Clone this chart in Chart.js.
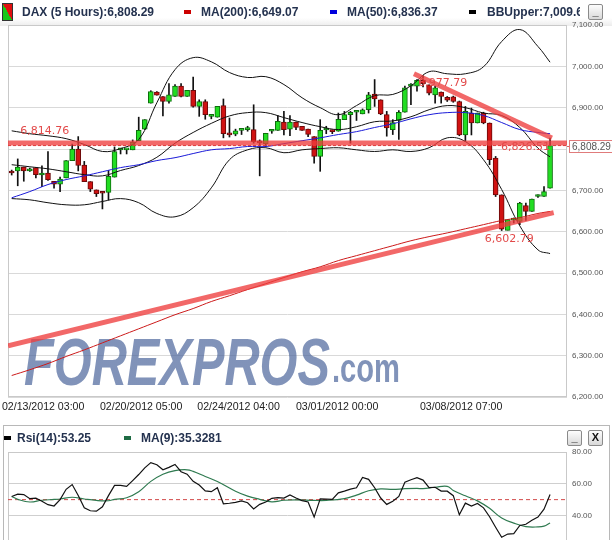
<!DOCTYPE html>
<html><head><meta charset="utf-8">
<script src="https://cdn.jsdelivr.net/npm/chart.js@4.4.1/dist/chart.umd.min.js"></script>
<style>
body{margin:0;width:612px;height:540px;overflow:hidden;background:#fff;position:relative;font-family:"Liberation Sans",Arial,sans-serif}
canvas{position:absolute;left:0}
#main{top:0}
#rsi{top:425px}
.lg{position:absolute;font:bold 12px "Liberation Sans",Arial,sans-serif;color:#24324f;white-space:nowrap;line-height:14px}
.sw{position:absolute;width:7px;height:4px}
.btn{position:absolute;width:13px;height:14px;border:1px solid #8a8a8a;border-radius:2px;background:linear-gradient(#fdfdfd,#d8d8d8);font:bold 11px "Liberation Sans";text-align:center;line-height:13px;color:#111}
#icon{position:absolute;left:2px;top:3px;width:9px;height:16px;border:1px solid #333;background:linear-gradient(to top right,#18c818 50%,#e01010 50%)}
#frame2{position:absolute;left:3px;top:425px;width:605px;height:130px;border:1px solid #b8b8b8}
#topband{position:absolute;left:0;top:18px;width:612px;height:8px;background:linear-gradient(#fff,#ececec)}
</style></head>
<body>
<div id="topband"></div>
<div id="frame2"></div>
<canvas id="main" width="612" height="420"></canvas>
<canvas id="rsi" width="612" height="160"></canvas>
<div id="icon"></div>
<div class="lg" style="left:22px;top:5px">DAX (5 Hours):6,808.29</div>
<div class="sw" style="left:184px;top:10px;background:#cc0000"></div>
<div class="lg" style="left:201px;top:5px">MA(200):6,649.07</div>
<div class="sw" style="left:330px;top:10px;background:#0000dd"></div>
<div class="lg" style="left:347px;top:5px">MA(50):6,836.37</div>
<div class="sw" style="left:469px;top:10px;background:#000"></div>
<div class="lg" style="left:487px;top:5px;width:93px;overflow:hidden">BBUpper:7,009.65</div>
<div class="btn" style="left:588px;top:4px">_</div>
<div class="sw" style="left:4px;top:436px;background:#000"></div>
<div class="lg" style="left:17px;top:431px">Rsi(14):53.25</div>
<div class="sw" style="left:124px;top:436px;background:#1e6b44"></div>
<div class="lg" style="left:141px;top:431px">MA(9):35.3281</div>
<div class="btn" style="left:567px;top:430px">_</div>
<div class="btn" style="left:588px;top:430px">X</div>
<script>
// ---------- data ----------
const tickIdx = [5.2, 21.4, 37.5, 53.8, 74.3];
const tickLabels = ['02/13/2012 03:00','02/20/2012 05:00','02/24/2012 04:00','03/01/2012 00:00','03/08/2012 07:00'];

const open = [6744,6747,6756,6747,6755,6737,6742,6722,6715,6730, 6772,6800,6761,6721,6701,6694,6695,6732,6798,6798,
  6798,6820,6848,6911,6938,6927,6915,6927,6952,6927, 6942,6903,6915,6879,6877,6905,6835,6836,6845,6847,
  6847,6816,6813,6843,6845,6865,6848,6865,6855,6848, 6830,6782,6846,6843,6843,6871,6883,6889,6885,6895,
  6933,6919,6883,6847,6869,6889,6952,6952,6966,6955, 6931,6938,6925,6926,6915,6834,6887,6863,6887,6863,
  6778,6689,6603,6628,6625,6663,6649,6685,6685,6705];
const high = [6749,6776,6756,6754,6755,6759,6794,6722,6732,6772, 6812,6830,6770,6721,6701,6695,6748,6805,6800,6800,
  6822,6877,6871,6941,6939,6927,6958,6956,6958,6942, 6974,6919,6919,6883,6903,6921,6875,6848,6847,6855,
  6907,6822,6838,6847,6881,6891,6881,6865,6855,6848, 6830,6871,6855,6845,6887,6891,6891,6893,6897,6937,
  6968,6919,6891,6871,6893,6952,6958,6968,6977.79,6955, 6952,6938,6927,6928,6916,6903,6899,6887,6889,6863,
  6782,6689,6629,6633,6671,6669,6679,6689,6709,6826.51];
const low = [6737,6711,6722,6746,6730,6709,6724,6705,6697,6730, 6772,6747,6721,6697,6685,6655,6677,6732,6788,6788,
  6798,6820,6847,6911,6930,6880,6911,6927,6926,6927, 6901,6879,6872,6873,6877,6827,6829,6832,6835,6843,
  6814,6735,6805,6838,6845,6834,6832,6847,6845,6830, 6766,6746,6837,6837,6843,6871,6814,6869,6885,6887,
  6903,6883,6831,6835,6823,6889,6907,6940,6950,6931, 6911,6911,6915,6913,6832,6818,6834,6863,6861,6762,
  6685,6602.79,6604,6621,6617,6627,6649,6683,6685,6705];
const close = [6742,6756,6747,6752,6738,6742,6726,6715,6727,6772, 6800,6760,6721,6703,6692,6693,6734,6794,6799,6798,
  6816,6845,6871,6939,6930,6915,6931,6952,6927,6942, 6903,6915,6883,6880,6903,6837,6834,6844,6846,6848,
  6818,6815,6838,6844,6867,6847,6865,6852,6845,6835, 6782,6845,6847,6842,6872,6883,6889,6890,6895,6931,
  6921,6885,6851,6864,6889,6948,6953,6966,6958,6935, 6948,6927,6918,6915,6834,6891,6863,6887,6863,6774,
  6689,6606,6629,6629,6669,6649,6679,6686,6697,6808.29];

const lineIdx = [0,3,6,9,12,15,18,21,24,27,30,33,36,39,42,45,48,51,54,57,60,63,66,69,72,75,78,81,84,87,89];
const bbUpper = [6844,6837,6832,6825,6811,6794,6801,6823,6912,6992,7021,7011,6985,6973,6975,6956,6924,6900,6883,6905,6929,6932,6953,6987,6982,6982,6999,7060,7089,7048,7010];
const bbMiddle = [6762,6757,6752,6745,6738,6735,6748,6760,6780,6814,6840,6862,6880,6888,6888,6876,6864,6854,6847,6854,6866,6868,6878,6895,6905,6900,6887,6881,6852,6802,6781];
const bbLower = [6680,6677,6670,6665,6665,6673,6680,6670,6644,6636,6658,6706,6774,6798,6803,6791,6798,6801,6803,6798,6794,6798,6794,6803,6827,6818,6774,6702,6614,6556,6547];
const ma50 = [6682,6697,6714,6726,6735,6745,6755,6762,6772,6779,6789,6798,6801,6806,6806,6813,6820,6827,6835,6842,6852,6861,6873,6883,6888,6888,6881,6864,6847,6840,6837];
const ma200 = [6252,6266,6281,6298,6314,6331,6348,6365,6382,6399,6414,6431,6445,6460,6474,6489,6503,6515,6530,6542,6554,6566,6578,6588,6597,6607,6617,6627,6634,6644,6649];

const resistance = 6814.76;
const lastPrice = 6808.29;
const trendUpIdx = [-0.61, 89.6], trendUpVal = [6324, 6646];
const trendDownIdx = [66.5, 89.3], trendDownVal = [6982, 6826.51];
const notes = [
  {text:'6,814.76', idx:1.4, val:6814.76, dy:-12, align:'left'},
  {text:'6,977.79', idx:67.2, val:6977.79, dy:8, align:'left'},
  {text:'6,826.51', idx:89.0, val:6826.51, dy:9, align:'right'},
  {text:'6,602.79', idx:78.2, val:6602.79, dy:9, align:'left'}
];

const rsi = [52.0,53.4,53.2,50.6,50.9,49.0,46.8,46.0,50.0,56.5, 59.5,52.6,44.8,43.0,42.7,45.5,52.5,59.0,59.0,58.3,
  62.0,65.8,70.0,73.3,72.0,68.8,70.3,72.2,67.6,66.0, 61.5,59.2,55.5,55.0,57.5,47.4,47.7,48.3,49.2,48.0,
  44.1,47.0,48.5,50.8,51.3,51.0,53.0,51.0,49.4,48.5, 39.0,50.5,50.3,50.1,54.3,55.4,56.6,57.5,64.0,62.8,
  57.5,51.0,47.0,49.0,52.0,61.0,62.5,63.8,62.3,57.5, 57.8,55.4,55.3,52.5,40.5,47.8,46.0,47.6,44.8,39.2,
  32.6,26.3,28.3,28.6,33.7,34.5,37.0,39.0,44.0,53.25];
const rsiMaIdx = [0,1,3,5,7,8,10,12,14,16,17,19,21,23,25,27,29,30,32,34,37,39,41,43,45,47,50,52,55,57,59,61,63,65,67,68,70,72,73,75,77,79,81,83,85,87,88,89];
const rsiMa = [52.0,50.2,48.5,49.6,50.1,50.4,51.5,50.4,49.5,49.3,50.2,51.2,55.0,61.5,66.0,68.3,68.8,67.8,64.6,61.4,55.3,52.2,50.2,48.6,49.6,49.9,49.5,49.5,50.6,52.8,55.6,56.8,56.4,56.9,57.1,56.9,57.8,58.4,55.8,52.4,49.2,44.5,38.4,35.2,33.0,32.8,33.3,35.3281];
const rsiMid = 50;

// ---------- helpers ----------
const X_MIN = -0.61, X_MAX = 91.8;
const pts = (xs, ys) => xs.map((x, k) => ({x, y: ys[k]}));
const idx = open.map((_, i) => i);
const fmt2 = v => Number(v).toLocaleString('en-US', {minimumFractionDigits:2, maximumFractionDigits:2});

const areaBorder = {
  id: 'areaBorder',
  beforeDatasetsDraw(chart) {
    const {ctx, chartArea: a} = chart;
    ctx.save(); ctx.strokeStyle = '#c9c9c9'; ctx.lineWidth = 1;
    ctx.strokeRect(a.left + 0.5, a.top + 0.5, a.right - a.left - 1, a.bottom - a.top - 1);
    ctx.restore();
  }
};

const watermark = {
  id: 'watermark',
  beforeDatasetsDraw(chart) {
    const c = chart.ctx;
    c.save();
    c.font = 'italic bold 66px "Liberation Sans"';
    const t = 'FOREXPROS', w = c.measureText(t).width;
    const g = c.createLinearGradient(0, 337, 0, 386);
    g.addColorStop(0, 'rgba(80,105,158,0.72)');
    g.addColorStop(0.5, 'rgba(120,142,185,0.68)');
    g.addColorStop(1, 'rgba(175,190,218,0.66)');
    c.fillStyle = g;
    c.translate(24, 385); c.scale(306 / w, 1); c.fillText(t, 0, 0);
    c.restore();
    c.save();
    c.font = 'bold 40px "Liberation Sans"';
    const t2 = '.com', w2 = c.measureText(t2).width;
    const g2 = c.createLinearGradient(0, 352, 0, 383);
    g2.addColorStop(0, 'rgba(80,105,158,0.72)');
    g2.addColorStop(1, 'rgba(175,190,218,0.66)');
    c.fillStyle = g2;
    c.translate(332, 382); c.scale(68 / w2, 1); c.fillText(t2, 0, 0);
    c.restore();
  }
};

const annotations = {
  id: 'annotations',
  afterDatasetsDraw(chart) {
    const {ctx, chartArea: a, scales: {x, y}} = chart;
    ctx.save();
    ctx.font = '11px "DejaVu Sans"'; ctx.fillStyle = '#e24a4a'; ctx.textBaseline = 'middle';
    notes.forEach(n => {
      ctx.textAlign = n.align;
      ctx.fillText(n.text, x.getPixelForValue(n.idx), y.getPixelForValue(n.val) + n.dy);
    });
    const py = Math.round(y.getPixelForValue(lastPrice));
    ctx.strokeStyle = '#e06060'; ctx.lineWidth = 1;
    ctx.beginPath(); ctx.moveTo(a.right, py + 0.5); ctx.lineTo(a.right + 2, py + 0.5); ctx.stroke();
    ctx.fillStyle = '#fff'; ctx.fillRect(569, py - 6, 50, 13);
    ctx.strokeStyle = '#e07b7b'; ctx.strokeRect(569.5, py - 5.5, 50, 12);
    ctx.fillStyle = '#555'; ctx.font = '10px "Liberation Sans"'; ctx.textAlign = 'left';
    ctx.fillText(fmt2(lastPrice), 572, py + 1);
    ctx.restore();
  }
};

const up = i => close[i] >= open[i];
const thick = 'rgba(238,62,62,0.78)';

new Chart(document.getElementById('main'), {
  data: {
    datasets: [
      {type:'bar', label:'wick', data: idx.map(i => ({x:i, y:[low[i], high[i]]})), backgroundColor:'#111',
       barThickness:1, grouped:false, borderWidth:0, minBarLength:1, order:10},
      {type:'bar', label:'body', data: idx.map(i => ({x:i, y:[open[i], close[i]]})),
       backgroundColor: c => up(c.dataIndex) ? '#22dd22' : '#d01212',
       borderColor: c => up(c.dataIndex) ? '#0d6e0d' : '#6a0a0a',
       borderWidth:1, borderSkipped:false, barThickness:5, grouped:false, minBarLength:2, order:9},
      {type:'line', label:'bbU', data: pts(lineIdx, bbUpper), borderColor:'#111', borderWidth:1, pointRadius:0, tension:0.4, order:6},
      {type:'line', label:'bbM', data: pts(lineIdx, bbMiddle), borderColor:'#111', borderWidth:1, pointRadius:0, tension:0.4, order:6},
      {type:'line', label:'bbL', data: pts(lineIdx, bbLower), borderColor:'#111', borderWidth:1, pointRadius:0, tension:0.4, order:6},
      {type:'line', label:'ma50', data: pts(lineIdx, ma50), borderColor:'#1a1ad8', borderWidth:1, pointRadius:0, tension:0.4, order:5},
      {type:'line', label:'ma200', data: pts(lineIdx, ma200), borderColor:'#cc1a1a', borderWidth:1, pointRadius:0, tension:0.4, order:5},
      {type:'line', label:'res', data: [{x:X_MIN, y:resistance}, {x:X_MAX, y:resistance}], borderColor:thick, borderWidth:5, pointRadius:0, order:2},
      {type:'line', label:'last', data: [{x:X_MIN, y:lastPrice}, {x:X_MAX, y:lastPrice}], borderColor:'#e03a3a', borderWidth:1, borderDash:[3,2], pointRadius:0, order:1},
      {type:'line', label:'tUp', data: pts(trendUpIdx, trendUpVal), borderColor:thick, borderWidth:5, pointRadius:0, order:2},
      {type:'line', label:'tDown', data: pts(trendDownIdx, trendDownVal), borderColor:thick, borderWidth:5, pointRadius:0, order:2}
    ]
  },
  options: {
    responsive:false, animation:false, devicePixelRatio:1,
    layout:{padding:{left:8, top:25, right:0, bottom:0}},
    plugins:{legend:{display:false}, tooltip:{enabled:false}},
    scales:{
      x:{type:'linear', min:X_MIN, max:X_MAX, position:'bottom', offset:false, bounds:'ticks',
         grid:{display:false, drawTicks:false}, border:{display:false},
         afterBuildTicks: s => { s.ticks = tickIdx.map(v => ({value:v})); },
         afterFit: s => { s.height = 23; s.paddingLeft = 0; s.paddingRight = 0; },
         ticks:{callback:(v) => tickLabels[tickIdx.indexOf(v)] || '', maxRotation:0, autoSkip:false,
                padding:4, color:'#222', font:{family:'Liberation Sans', size:10.6}}},
      y:{position:'right', min:6200, max:7100,
         grid:{color:'#d9d9d9', drawTicks:false}, border:{display:false},
         afterFit: s => { s.width = 45; s.paddingTop = 0; s.paddingBottom = 0; },
         ticks:{stepSize:100, padding:5, color:'#555', font:{family:'Liberation Sans', size:8}, callback: v => fmt2(v)}}
    }
  },
  plugins:[areaBorder, watermark, annotations]
});

new Chart(document.getElementById('rsi'), {
  type:'line',
  data:{datasets:[
    {data: idx.map(i => ({x:i, y:rsi[i]})), borderColor:'#111', borderWidth:1.2, pointRadius:0, tension:0, order:1},
    {data: pts(rsiMaIdx, rsiMa), borderColor:'#2f7a50', borderWidth:1.2, pointRadius:0, tension:0.4, order:2},
    {data: [{x:X_MIN, y:rsiMid}, {x:X_MAX, y:rsiMid}], borderColor:'#d24848', borderWidth:1, borderDash:[4,3], pointRadius:0, order:3}
  ]},
  options:{
    responsive:false, animation:false, devicePixelRatio:1,
    layout:{padding:{left:8, top:27, right:0, bottom:6}},
    plugins:{legend:{display:false}, tooltip:{enabled:false}},
    scales:{
      x:{type:'linear', min:X_MIN, max:X_MAX, display:false},
      y:{position:'right', min:0, max:80,
         grid:{color:'#cfcfcf', drawTicks:false}, border:{display:false},
         afterFit: s => { s.width = 45; s.paddingTop = 0; s.paddingBottom = 0; },
         ticks:{stepSize:20, padding:5, color:'#555', font:{family:'Liberation Sans', size:8}, callback: v => fmt2(v)}}
    }
  },
  plugins:[areaBorder]
});
</script>
</body></html>
